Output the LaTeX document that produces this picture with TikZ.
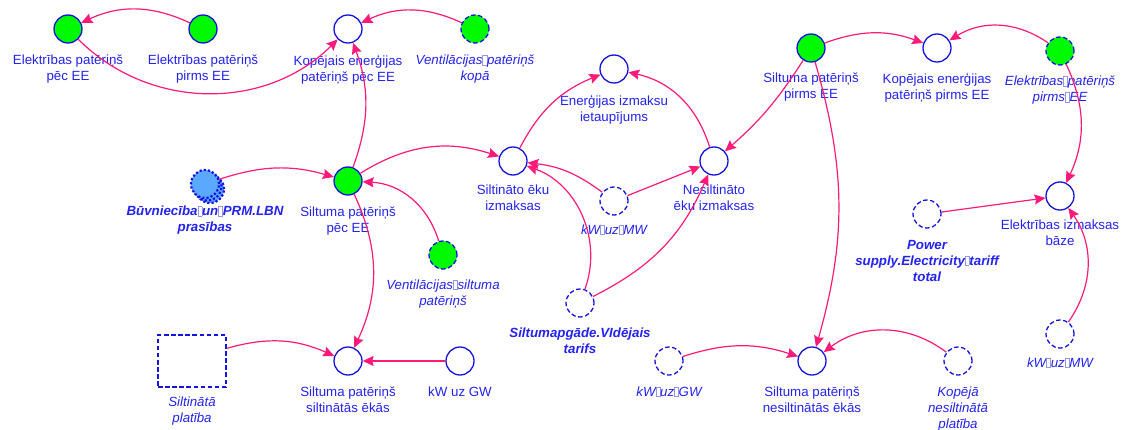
\documentclass[tikz,border=0pt]{standalone}
\usepackage{fontspec}
\setmainfont{Liberation Sans}
\usetikzlibrary{arrows.meta,positioning}

\definecolor{txtblue}{RGB}{35,35,245}
\definecolor{ringblue}{RGB}{20,20,225}
\definecolor{stockgreen}{RGB}{0,250,0}
\definecolor{skyfill}{RGB}{90,168,255}
\definecolor{linkpink}{RGB}{255,25,120}
\definecolor{gapgrey}{RGB}{150,150,225}

% small empty box standing between words of some variable names
\newcommand{\gb}{{\color{gapgrey}\setlength{\fboxsep}{0pt}\setlength{\fboxrule}{0.4pt}\fbox{\rule{0pt}{0.68em}\hspace{0.28em}}}}

\tikzset{
  var/.style={circle, minimum size=28pt, inner sep=0pt, draw=ringblue, line width=1.3pt},
  aux/.style={var, fill=white},
  lvl/.style={var, fill=stockgreen},
  ghost/.style={dash pattern=on 4.5pt off 2.6pt},
  lab/.style={font=\fontsize{13.3}{16}\selectfont, text=txtblue, align=center, inner sep=0pt},
  labit/.style={lab, font=\fontsize{13.3}{16}\selectfont\itshape},
  labbf/.style={lab, font=\fontsize{13.3}{16}\selectfont\bfseries\itshape},
  link/.style={draw=linkpink, line width=1.2pt, -{Stealth[length=11pt,width=10pt,inset=1.5pt]}},
  dotring/.style={fill=skyfill, draw=ringblue, line width=2.2pt, dash pattern=on 2.2pt off 2pt}
}

\begin{document}
\begin{tikzpicture}[x=1pt,y=1pt]
\useasboundingbox (0,0) rectangle (1126,429);

% ---- variables ----
\node[lvl] (elpec) at (68,400) {};
\node[lvl] (elpirms) at (203,400) {};
\node[aux] (kopec) at (348,400) {};
\node[lvl,ghost] (ventkopa) at (475,400) {};
\node[aux] (ietaup) at (614,360) {};
\node[aux] (siltizm) at (513,268) {};
\node[aux] (nesiltizm) at (714,268) {};
\node[aux,ghost] (kwmwa) at (614,228) {};
\node[lvl] (siltpec) at (348,248) {};
\draw[dotring] (210,240) circle[radius=14];
\draw[dotring] (207.5,242.5) circle[radius=14];
\node[var,dotring] (buvn) at (205,245) {};
\node[lvl,ghost] (ventsilt) at (443,174) {};
\node[aux] (siltsilt) at (348,68) {};
\node[aux] (kwgwa) at (460,68) {};
\node[draw=ringblue, ghost, line width=1.3pt, minimum width=68pt, minimum height=52pt, inner sep=0pt] (platiba) at (192,68) {};
\node[aux,ghost] (tarifs) at (580,126) {};
\node[aux,ghost] (kwgwb) at (669,68) {};
\node[aux] (siltnesilt) at (812,68) {};
\node[aux,ghost] (nesiltplat) at (958,68) {};
\node[lvl] (siltpirms) at (811,381) {};
\node[aux] (kopirms) at (937,381) {};
\node[lvl,ghost] (elpirmsb) at (1060,378) {};
\node[aux] (elbaze) at (1060,233) {};
\node[aux,ghost] (power) at (927,215) {};
\node[aux,ghost] (kwmwb) at (1060,95) {};

% ---- names ----
\node[lab, below=11pt of elpec] (telpec) {Elektrības patēriņš\\pēc EE};
\node[lab, below=11pt of elpirms] (telpirms) {Elektrības patēriņš\\pirms EE};
\node[lab, below=11pt of kopec] (tkopec) {Kopējais enerģijas\\patēriņš pēc EE};
\node[labit, below=11pt of ventkopa] (tventkopa) {Ventilācijas\gb patēriņš\\kopā};
\node[lab, below=11pt of ietaup] (tietaup) {Enerģijas izmaksu\\ietaupījums};
\node[lab, below=9pt of siltizm] (tsiltizm) {Siltināto ēku\\izmaksas};
\node[lab, below=9pt of nesiltizm] (tnesiltizm) {Nesiltināto\\ēku izmaksas};
\node[labit, below=9pt of kwmwa] (tkwmwa) {kW\gb uz\gb MW};
\node[lab, below=11pt of siltpec] (tsiltpec) {Siltuma patēriņš\\pēc EE};
\node[labbf, below=7pt of buvn] (tbuvn) {Būvniecība\gb un\gb PRM.LBN\\prasības};
\node[labit, below=10pt of ventsilt] (tventsilt) {Ventilācijas\gb siltuma\\patēriņš};
\node[lab, below=11pt of siltsilt] (tsiltsilt) {Siltuma patēriņš\\siltinātās ēkās};
\node[lab, below=11pt of kwgwa] (tkwgwa) {kW uz GW};
\node[labit, below=9pt of platiba] (tplatiba) {Siltinātā\\platība};
\node[labbf, below=10pt of tarifs] (ttarifs) {Siltumapgāde.VIdējais\\tarifs};
\node[labit, below=11pt of kwgwb] (tkwgwb) {kW\gb uz\gb GW};
\node[lab, below=11pt of siltnesilt] (tsiltnesilt) {Siltuma patēriņš\\nesiltinātās ēkās};
\node[labit, below=11pt of nesiltplat] (tnesiltplat) {Kopējā\\nesiltinātā\\platība};
\node[lab, below=10pt of siltpirms] (tsiltpirms) {Siltuma patēriņš\\pirms EE};
\node[lab, below=10pt of kopirms] (tkopirms) {Kopējais enerģijas\\patēriņš pirms EE};
\node[labit, below=10pt of elpirmsb] (telpirmsb) {Elektrības\gb patēriņš\\pirms\gb EE};
\node[lab, below=9pt of elbaze] (telbaze) {Elektrības izmaksas\\bāze};
\node[labbf, below=11pt of power] (tpower) {Power\\supply.Electricity\gb tariff\\total};
\node[labit, below=9pt of kwmwb] (tkwmwb) {kW\gb uz\gb MW};

% ---- links ----
\draw[link] (elpirms) to[bend right=25] (elpec);
\draw[link] (elpec) to[bend right=45] (kopec);
\draw[link] (ventkopa) to[bend right=25] (kopec);
\draw[link] (siltpec) to[bend right=20] (kopec);
\draw[link] (buvn) to[bend left=17] (siltpec);
\draw[link] (siltpec) to[bend left=25] (siltizm);
\draw[link] (ventsilt) to[bend right=35] (siltpec);
\draw[link] (siltpec) to[bend left=25] (siltsilt);
\draw[link] (platiba) to[bend left=20] (siltsilt);
\draw[link] (kwgwa) -- (siltsilt);
\draw[link] (siltizm) to[bend left=20] (ietaup);
\draw[link] (nesiltizm) to[bend right=30] (ietaup);
\draw[link] (siltpirms) to[bend left=8] (nesiltizm);
\draw[link] (kwmwa) to[bend right=15] (siltizm);
\draw[link] (kwmwa) -- (nesiltizm);
\draw[link] (tarifs) to[bend right=45] (siltizm);
\draw[link] (tarifs) to[bend right=20] (nesiltizm);
\draw[link] (siltpirms) to[bend left=20] (kopirms);
\draw[link] (elpirmsb) to[bend right=33] (kopirms);
\draw[link] (elpirmsb) to[bend left=25] (elbaze);
\draw[link] (power) -- (elbaze);
\draw[link] (kwmwb) to[bend right=35] (elbaze);
\draw[link] (siltpirms) to[bend left=16] (siltnesilt);
\draw[link] (kwgwb) to[bend left=18] (siltnesilt);
\draw[link] (nesiltplat) to[bend right=37] (siltnesilt);
\end{tikzpicture}
\end{document}
